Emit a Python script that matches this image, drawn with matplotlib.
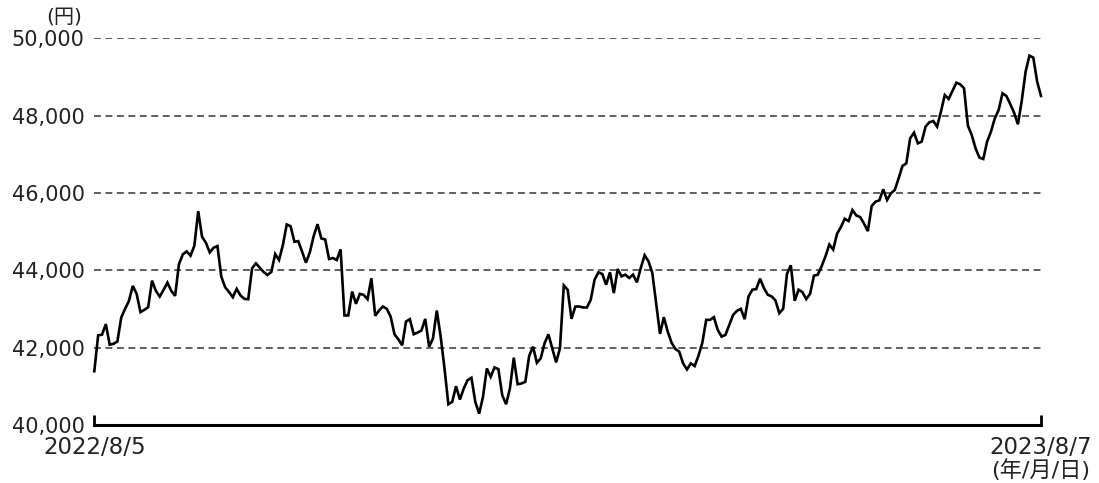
import numpy as np
import matplotlib
matplotlib.use("Agg")
import matplotlib.pyplot as plt
from matplotlib.ticker import FuncFormatter

plt.rcParams['font.family'] = ['DejaVu Sans', 'Noto Sans CJK JP']

# Daily prices (円), 2022/8/5 -> 2023/8/7
prices = [
    41391, 42318, 42335, 42610, 42077, 42100, 42160, 42781, 43004, 43210,
    43597, 43391, 42918, 42978, 43047, 43734, 43468, 43322, 43494, 43682,
    43468, 43339, 44163, 44412, 44489, 44378, 44635, 45528, 44867, 44712,
    44464, 44584, 44627, 43837, 43562, 43442, 43305, 43519, 43348, 43262,
    43253, 44052, 44180, 44069, 43957, 43880, 43957, 44421, 44266, 44652,
    45185, 45142, 44738, 44755, 44481, 44197, 44464, 44884, 45193, 44824,
    44798, 44292, 44318, 44266, 44541, 42833, 42833, 43451, 43133, 43391,
    43365, 43253, 43794, 42824, 42961,
    43065, 43004, 42805, 42346, 42216, 42061, 42675, 42736, 42346, 42390,
    42442, 42745, 42026, 42234, 42961, 42286, 41463, 40537, 40597, 41004,
    40658, 40944, 41160, 41221, 40597, 40294, 40727, 41463, 41247, 41489,
    41446, 40771, 40537, 40944, 41740, 41056, 41074, 41117, 41784, 42026,
    41610, 41723, 42113, 42346, 41983, 41619, 41983, 43610, 43498, 42745,
    43065, 43065, 43039, 43039, 43238, 43758, 43948, 43905, 43628, 43948,
    43411, 44035, 43844, 43887, 43801, 43887, 43688, 44061, 44390, 44234,
    43931, 43152, 42355,
    42788, 42416, 42130, 41965, 41896, 41593, 41437, 41593, 41524, 41792,
    42130, 42719, 42719, 42788, 42459, 42286, 42329, 42589, 42848, 42952,
    43004, 42736, 43325, 43498, 43515, 43784, 43541, 43368, 43325, 43221,
    42892, 43004, 43913, 44130, 43212, 43498, 43437, 43255, 43394, 43861,
    43887, 44104, 44364, 44667, 44537, 44944, 45117, 45333, 45273, 45558,
    45420, 45377, 45212, 45013, 45662, 45775, 45810,
    46095, 45819, 45991, 46078, 46379, 46698, 46767, 47414, 47560, 47284,
    47328, 47716, 47828, 47862, 47716, 48103, 48534, 48431, 48638, 48853,
    48810, 48707, 47741, 47500, 47155, 46914, 46879, 47328, 47586, 47931,
    48147, 48578, 48509, 48302, 48078, 47776, 48388, 49138, 49552, 49500,
    48879, 48509,
]
start_label = "2022/8/5"
end_label = "2023/8/7"
unit_y = "(円)"
unit_x = "(年/月/日)"
y_ticks = [40000, 42000, 44000, 46000, 48000, 50000]

W, H = 1099, 483
fig = plt.figure(figsize=(W / 100, H / 100), dpi=100)
left, right = 94.3 / W, 1041 / W
bottom, top = (H - 425) / H, (H - 38.3) / H
ax = fig.add_axes([left, bottom, right - left, top - bottom])

x = np.arange(len(prices))
ax.plot(x, prices, color='black', lw=1.9, solid_joinstyle='miter', clip_on=False, zorder=3)

ax.set_xlim(0, len(prices) - 1)
ax.set_ylim(40000, 50000)

text_color = '#222222'
for v in y_ticks[1:]:
    ax.axhline(v, color='#333333', lw=1.1, linestyle=(0, (4.5, 3.0)), zorder=1)

for s in ['top', 'right', 'left']:
    ax.spines[s].set_visible(False)
ax.spines['bottom'].set_linewidth(2.2)
ax.spines['bottom'].set_color('black')

ax.set_yticks(y_ticks)
ax.yaxis.set_major_formatter(FuncFormatter(lambda v, p: f"{int(v):,}"))
ax.tick_params(axis='y', length=0, pad=7, labelsize=15, labelcolor=text_color)

ax.set_xticks([0, len(prices) - 1])
ax.set_xticklabels([start_label, end_label])
ax.tick_params(axis='x', direction='in', length=7, width=2, color='black',
               pad=8, labelsize=16.5, labelcolor=text_color)

fig.text(64 / W, (H - 17) / H, unit_y, ha='center', va='center', fontsize=14.5, color=text_color)
fig.text(1041 / W, (H - 470) / H, unit_x, ha='center', va='center', fontsize=16, color=text_color)

fig.savefig("out.png", dpi=100)
